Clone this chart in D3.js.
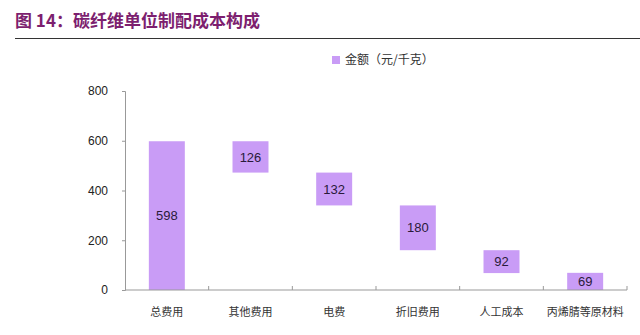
<!DOCTYPE html>
<html>
<head>
<meta charset="utf-8">
<script src="https://cdn.jsdelivr.net/npm/d3@7"></script>
<style>
  html, body { margin: 0; padding: 0; background: #fff; }
  svg { display: block; }
</style>
</head>
<body>
<svg id="chart" width="640" height="335"></svg>
<script>
// Cost breakdown of carbon fibre per kilogram (yuan/kg)
const categories = ["总费用", "其他费用", "电费", "折旧费用", "人工成本", "丙烯腈等原材料"];
const values = [598, 126, 132, 180, 92, 69];
const yTicks = [0, 200, 400, 600, 800];
const titleText = "图 14：碳纤维单位制配成本构成";
const legendText = "金额（元/千克）";

const svg = d3.select("#chart");
const W = 640, H = 335;
const margin = { left: 125, right: 13, top: 91, bottom: 45 };
const cjk = "'Noto Sans CJK SC', 'Noto Sans', sans-serif";
const barColor = "#c99cf6";

// Title and rule beneath it
svg.append("text")
  .attr("x", 15).attr("y", 27)
  .attr("fill", "#7d1f6f")
  .attr("font-family", cjk)
  .attr("font-size", 17)
  .attr("font-weight", "bold")
  .text(titleText);
svg.append("line")
  .attr("x1", 15).attr("x2", 640)
  .attr("y1", 38.5).attr("y2", 38.5)
  .attr("stroke", "#333").attr("stroke-width", 1.2);

// Waterfall segments: the first bar is the total, the rest step down from it
let running = 0;
const segs = values.map((v, i) => {
  if (i === 0) { running = v; return { cat: categories[i], v, lo: 0, hi: v }; }
  const lo = Math.max(0, running - v);
  running = running - v;
  return { cat: categories[i], v, lo, hi: lo + v };
});

const x = d3.scaleBand()
  .domain(categories)
  .range([margin.left, W - margin.right])
  .paddingInner(0.57)
  .paddingOuter(0.285);

const y = d3.scaleLinear()
  .domain([0, 800])
  .range([H - margin.bottom, margin.top]);

// Bars
svg.append("g").selectAll("rect")
  .data(segs)
  .join("rect")
  .attr("x", d => x(d.cat))
  .attr("width", x.bandwidth())
  .attr("y", d => y(d.hi))
  .attr("height", d => y(d.lo) - y(d.hi))
  .attr("fill", barColor);

// Value labels in the middle of each bar
svg.append("g").selectAll("text")
  .data(segs)
  .join("text")
  .attr("x", d => x(d.cat) + x.bandwidth() / 2)
  .attr("y", d => (y(d.lo) + y(d.hi)) / 2)
  .attr("dy", "0.36em")
  .attr("text-anchor", "middle")
  .attr("fill", "#2a1a3a")
  .attr("font-family", "'Liberation Sans', Arial, sans-serif")
  .attr("font-size", 13)
  .text(d => d.v);

// Y axis
const yAxis = svg.append("g")
  .attr("transform", `translate(${margin.left},0)`)
  .call(d3.axisLeft(y).tickValues(yTicks).tickSize(3).tickPadding(14));
yAxis.select(".domain").attr("stroke", "#999");
yAxis.selectAll(".tick line").attr("stroke", "#999");
yAxis.selectAll("text")
  .attr("fill", "#222")
  .attr("font-family", "'Liberation Sans', Arial, sans-serif")
  .attr("font-size", 12);

// X axis with boundary ticks between categories
const xAxisG = svg.append("g")
  .attr("transform", `translate(0,${y(0)})`);
xAxisG.append("line")
  .attr("x1", margin.left).attr("x2", W - margin.right)
  .attr("y1", 0).attr("y2", 0)
  .attr("stroke", "#999");
const step = x.step();
const bounds = d3.range(1, categories.length + 1).map(i => margin.left + i * step);
xAxisG.selectAll(".bt")
  .data(bounds)
  .join("line")
  .attr("x1", d => d).attr("x2", d => d)
  .attr("y1", 0).attr("y2", -4)
  .attr("stroke", "#999");
xAxisG.selectAll(".lbl")
  .data(categories)
  .join("text")
  .attr("x", d => x(d) + x.bandwidth() / 2)
  .attr("y", 26)
  .attr("text-anchor", "middle")
  .attr("fill", "#333")
  .attr("font-family", cjk)
  .attr("font-size", 11)
  .text(d => d);

// Legend
const lg = svg.append("g").attr("transform", "translate(332,56)");
lg.append("rect").attr("width", 8).attr("height", 8).attr("fill", barColor);
lg.append("text")
  .attr("x", 13).attr("y", 4)
  .attr("dy", "0.36em")
  .attr("fill", "#333")
  .attr("font-family", cjk)
  .attr("font-size", 12)
  .text(legendText);
</script>
</body>
</html>
